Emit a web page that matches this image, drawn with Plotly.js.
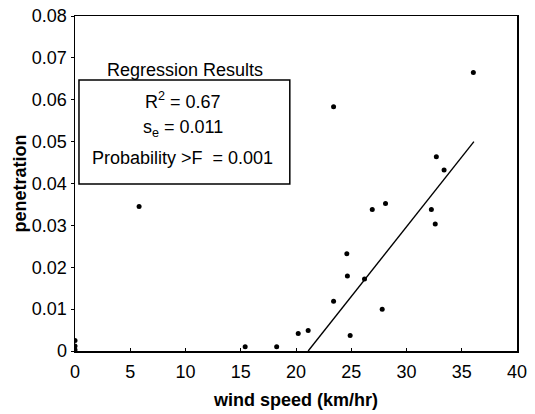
<!DOCTYPE html>
<html>
<head>
<meta charset="utf-8">
<script src="https://cdn.plot.ly/plotly-3.0.1.min.js"></script>
<style>html,body{margin:0;padding:0;background:#fff;}#chart{width:535px;height:414px;}</style>
</head>
<body>
<div id="chart"></div>
<script>
// observed data: wind speed (km/hr) vs penetration
const windSpeed = [0, 0, 0, 5.8, 15.4, 18.25, 20.2, 21.1, 23.4, 23.4, 24.6, 24.65, 24.9, 26.2, 26.9, 27.8, 28.1, 32.25, 32.6, 32.7, 33.4, 36.05];
const penetration = [0.0025, 0.0012, 0.0003, 0.0345, 0.0010, 0.0010, 0.0042, 0.0049, 0.0583, 0.0119, 0.0232, 0.0179, 0.0037, 0.0172, 0.0338, 0.0100, 0.0352, 0.0338, 0.0303, 0.0464, 0.0432, 0.0665];
// fitted regression line end points
const fitX = [21.1, 36.1];
const fitY = [0, 0.050];
// regression results text
const boxTitle = 'Regression Results';
const statLines = ['R<sup>2</sup> = 0.67', 's<sub>e</sub> = 0.011', 'Probability >F  = 0.001'];
const xTicks = [0, 5, 10, 15, 20, 25, 30, 35, 40];
const yTicks = [0, 0.01, 0.02, 0.03, 0.04, 0.05, 0.06, 0.07, 0.08];

const font = 'Arial, "Liberation Sans", sans-serif';
const traces = [
  {x: windSpeed, y: penetration, mode: 'markers', type: 'scatter',
   marker: {color: '#000', size: 5}, hoverinfo: 'skip'},
  {x: fitX, y: fitY, mode: 'lines', type: 'scatter',
   line: {color: '#000', width: 1.4}, hoverinfo: 'skip'}
];
const statY = [0.749, 0.663, 0.576];
const annotations = [
  {text: boxTitle, xref: 'paper', yref: 'paper', x: 0.249, y: 0.839, showarrow: false,
   xanchor: 'center', yanchor: 'middle', font: {family: font, size: 18, color: '#000'}}
].concat(statLines.map((t, i) => ({
  text: t, xref: 'paper', yref: 'paper', x: 0.244, y: statY[i], showarrow: false,
  xanchor: 'center', yanchor: 'middle', font: {family: font, size: 18, color: '#000'}
})));
const layout = {
  width: 535, height: 414,
  margin: {l: 75, r: 18, t: 16, b: 63},
  paper_bgcolor: '#fff', plot_bgcolor: '#fff',
  showlegend: false,
  font: {family: font, color: '#000'},
  xaxis: {range: [0, 40], tickvals: xTicks, ticktext: xTicks.map(String),
    showline: true, mirror: true, linecolor: '#000', linewidth: 1.5,
    showgrid: false, zeroline: false, ticks: 'inside', ticklen: 3, tickcolor: '#000',
    ticklabelstandoff: 4,
    tickfont: {family: font, size: 18, color: '#000'},
    title: {text: '<b>wind speed (km/hr)</b>', font: {family: font, size: 18, color: '#000'}, standoff: 12}},
  yaxis: {range: [0, 0.08], tickvals: yTicks, ticktext: yTicks.map(v => v === 0 ? '0' : v.toFixed(2)),
    showline: true, mirror: true, linecolor: '#000', linewidth: 1.5,
    showgrid: false, zeroline: false, ticks: 'outside', ticklen: 3, tickcolor: '#000',
    tickfont: {family: font, size: 18, color: '#000'},
    title: {text: '<b>penetration</b>', font: {family: font, size: 18, color: '#000'}, standoff: 0}},
  shapes: [{type: 'rect', xref: 'paper', yref: 'paper', x0: 0.009, x1: 0.486, y0: 0.4985, y1: 0.809,
    line: {color: '#000', width: 1.5}, fillcolor: 'rgba(0,0,0,0)'}],
  annotations: annotations
};
Plotly.newPlot('chart', traces, layout, {staticPlot: true, displayModeBar: false});
</script>
</body>
</html>
